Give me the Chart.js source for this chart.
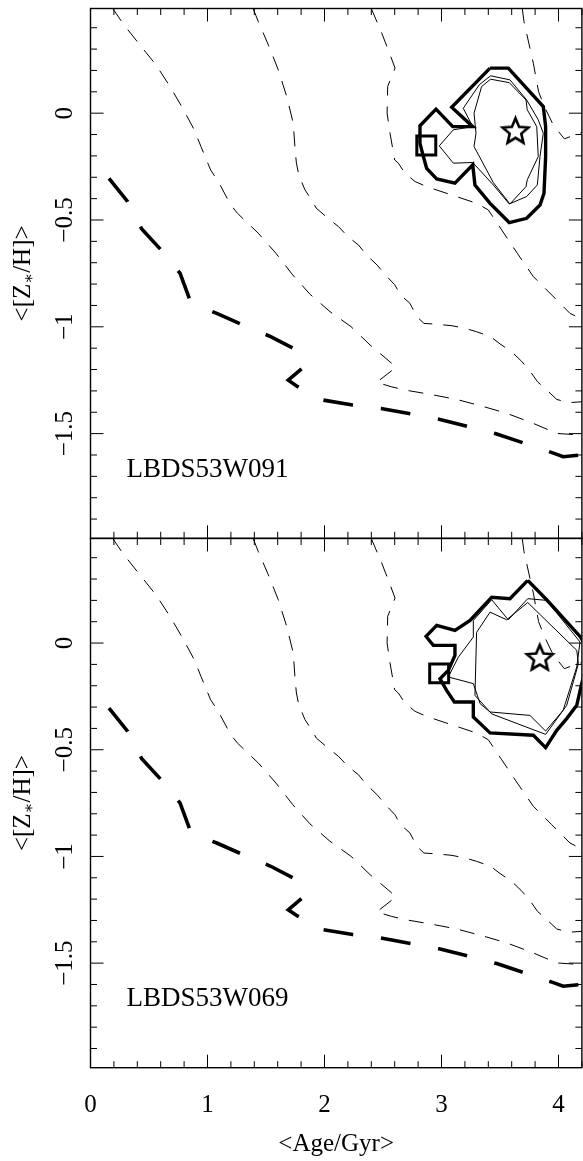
<!DOCTYPE html>
<html>
<head>
<meta charset="utf-8">
<script src="https://cdn.jsdelivr.net/npm/chart.js@4.4.1/dist/chart.umd.min.js"></script>
<style>
  body { margin: 0; background: #fff; width: 583px; height: 1161px; overflow: hidden; position: relative; }
  canvas { position: absolute; left: 0; }
</style>
</head>
<body>
<canvas id="c1" width="583" height="540" style="top:0"></canvas>
<canvas id="c2" width="583" height="631" style="top:530px"></canvas>
<script>
// axis ticks and labels
const ageTicks = [0, 1, 2, 3, 4];
const zTicks = [0, -0.5, -1, -1.5];
const zTickLabels = ['0', '\u22120.5', '\u22121', '\u22121.5'];
const panelNames = ['LBDS53W091', 'LBDS53W069'];

// thick long-dashed track
const trackAge = [0.158, 0.318, 0.438, 0.603, 0.765, 0.86, 1.079, 1.306, 1.54, 1.762, 1.84, 1.69, 1.762, 1.99, 2.24, 2.483, 2.739, 2.979, 3.235, 3.472, 3.714, 3.95, 4.04, 4.2];
const trackZ = [-0.305, -0.414, -0.542, -0.64, -0.749, -0.89, -0.937, -0.992, -1.046, -1.109, -1.18, -1.25, -1.277, -1.343, -1.366, -1.382, -1.408, -1.433, -1.468, -1.502, -1.546, -1.59, -1.608, -1.6];

// thin dashed lines
const lineAAge = [0.19, 0.28, 0.417, 0.56, 0.679, 0.788, 0.887, 0.944, 0.985, 1.027, 1.092, 1.198, 1.255, 1.434, 1.585, 1.728, 1.875, 2.047, 2.226, 2.389, 2.568, 2.61, 2.446, 2.574, 2.688, 2.902, 3.13, 3.344, 3.557, 3.771, 3.985, 4.2];
const lineAZ = [0.49, 0.418, 0.323, 0.226, 0.125, 0.023, -0.078, -0.156, -0.211, -0.266, -0.32, -0.429, -0.468, -0.562, -0.656, -0.757, -0.847, -0.929, -0.999, -1.085, -1.168, -1.19, -1.26, -1.281, -1.296, -1.316, -1.34, -1.371, -1.405, -1.449, -1.499, -1.507];

const lineBAge = [1.39, 1.434, 1.52, 1.605, 1.677, 1.733, 1.75, 1.76, 1.78, 1.833, 1.89, 1.93, 2.03, 2.12, 2.2, 2.29, 2.36, 2.45, 2.52, 2.6, 2.65, 2.73, 2.79, 2.85, 2.96, 3.09, 3.2, 3.3, 3.42, 3.5, 3.6, 3.68, 3.75, 3.82, 3.9, 3.985, 4.09, 4.2];
const lineBZ = [0.49, 0.429, 0.32, 0.203, 0.078, -0.047, -0.18, -0.234, -0.289, -0.359, -0.406, -0.445, -0.492, -0.531, -0.578, -0.617, -0.664, -0.711, -0.757, -0.803, -0.851, -0.89, -0.953, -0.984, -0.988, -0.995, -1.007, -1.023, -1.046, -1.08, -1.117, -1.159, -1.202, -1.257, -1.296, -1.34, -1.355, -1.351];

const lineCAge = [2.4, 2.489, 2.545, 2.603, 2.54, 2.535, 2.56, 2.6, 2.631, 2.688, 2.774, 2.874, 3.087, 3.301, 3.4, 3.515, 3.648, 3.785, 3.942, 4.098, 4.2];
const lineCZ = [0.49, 0.375, 0.296, 0.211, 0.125, 0.0, -0.094, -0.219, -0.234, -0.281, -0.32, -0.344, -0.383, -0.422, -0.453, -0.547, -0.656, -0.765, -0.851, -0.937, -0.965];

const lineDAge = [3.69, 3.705, 3.756, 3.785, 3.808, 3.83, 3.88, 3.955, 4.05, 4.2];
const lineDZ = [0.49, 0.429, 0.304, 0.234, 0.164, 0.1, 0.03, -0.055, -0.12, -0.09];

// LBDS53W091 contours and markers
const w091OuterAge = [3.415, 3.571, 3.87, 3.89, 3.89, 3.876, 3.842, 3.728, 3.579, 3.415, 3.286, 3.267, 3.115, 2.959, 2.873, 2.845, 2.816, 2.816, 2.953, 3.096, 3.267, 3.087, 3.415];
const w091OuterZ = [0.211, 0.211, 0.031, -0.063, -0.203, -0.375, -0.43, -0.492, -0.512, -0.422, -0.336, -0.242, -0.328, -0.308, -0.258, -0.203, -0.141, -0.059, 0.019, -0.063, -0.063, 0.028, 0.211];
const w091MidAge = [3.267, 3.101, 2.981, 3.101, 3.267, 3.443, 3.579, 3.728, 3.819, 3.842, 3.87, 3.827, 3.728, 3.585, 3.42, 3.323, 3.186, 3.267];
const w091MidZ = [-0.063, -0.078, -0.153, -0.234, -0.231, -0.336, -0.425, -0.39, -0.336, -0.203, -0.094, -0.031, 0.062, 0.156, 0.175, 0.133, 0.023, -0.063];
const w091InnerAge = [3.343, 3.42, 3.579, 3.722, 3.733, 3.814, 3.827, 3.733, 3.722, 3.585, 3.443, 3.278, 3.295, 3.278, 3.343];
const w091InnerZ = [0.125, 0.159, 0.143, 0.062, 0.016, -0.063, -0.203, -0.312, -0.344, -0.425, -0.325, -0.156, -0.094, 0.0, 0.125];
const w091Square = [2.87, -0.151];
const w091Star = [3.632, -0.087];

// LBDS53W069 contours and markers
const w069OuterAge = [3.737, 3.899, 4.184, 4.22, 4.22, 4.198, 4.156, 4.07, 3.985, 3.89, 3.785, 3.415, 3.272, 3.272, 3.11, 3.044, 2.987, 3.058, 3.115, 3.115, 2.93, 2.868, 2.959, 3.115, 3.244, 3.429, 3.585, 3.737];
const w069OuterZ = [0.294, 0.203, 0.031, 0.0, -0.15, -0.19, -0.292, -0.354, -0.409, -0.49, -0.432, -0.421, -0.347, -0.276, -0.276, -0.222, -0.167, -0.128, -0.058, -0.011, -0.011, 0.031, 0.083, 0.059, 0.106, 0.215, 0.208, 0.294];
const w069MidAge = [3.272, 3.429, 3.571, 3.737, 3.899, 4.184, 4.156, 4.04, 3.89, 3.756, 3.415, 3.33, 3.272, 3.058, 3.144, 3.272, 3.272];
const w069MidZ = [0.106, 0.203, 0.109, 0.208, 0.2, 0.005, -0.112, -0.315, -0.412, -0.339, -0.323, -0.284, -0.19, -0.159, -0.066, 0.028, 0.106];
const w069InnerAge = [3.3, 3.415, 3.557, 3.737, 4.156, 4.17, 4.07, 3.89, 3.429, 3.286, 3.3];
const w069InnerZ = [0.05, 0.145, 0.109, 0.19, -0.034, -0.097, -0.292, -0.428, -0.332, -0.245, 0.05];
const w069Square = [2.98, -0.142];
const w069Star = [3.84, -0.072];

const pts = (xs, ys) => xs.map((x, i) => ({ x, y: ys[i] }));

function starImage(r) {
  const s = Math.ceil(2 * r + 6);
  const c = document.createElement('canvas');
  c.width = s; c.height = s;
  const g = c.getContext('2d');
  g.translate(s / 2, s / 2);
  g.beginPath();
  for (let i = 0; i < 10; i++) {
    const rr = i % 2 ? r * 0.45 : r;
    const a = -Math.PI / 2 + i * Math.PI / 5;
    g.lineTo(rr * Math.cos(a), rr * Math.sin(a));
  }
  g.closePath();
  g.fillStyle = '#fff';
  g.fill();
  g.lineWidth = 2.6;
  g.strokeStyle = '#000';
  g.stroke();
  return c;
}
const star = starImage(13.5);

const SERIF = '"Liberation Serif", "DejaVu Serif", serif';

// frame with inward ticks on all four sides, plus labels
const frame = {
  id: 'frame',
  afterDraw(chart, args, o) {
    const { ctx, chartArea: a, scales: { x, y } } = chart;
    ctx.save();
    ctx.strokeStyle = '#000';
    ctx.lineWidth = 1;
    ctx.beginPath();
    for (let i = 0; i <= 21; i++) {
      const px = x.getPixelForValue(i * 0.2);
      const len = i % 5 === 0 ? 13 : 6.5;
      ctx.moveTo(px, a.top); ctx.lineTo(px, a.top + len);
      ctx.moveTo(px, a.bottom); ctx.lineTo(px, a.bottom - len);
    }
    for (let i = -19; i <= 4; i++) {
      const py = y.getPixelForValue(i / 10);
      const len = i % 5 === 0 ? 13 : 6.5;
      ctx.moveTo(a.left, py); ctx.lineTo(a.left + len, py);
      ctx.moveTo(a.right, py); ctx.lineTo(a.right - len, py);
    }
    ctx.stroke();
    ctx.lineWidth = 1.4;
    ctx.strokeRect(a.left, a.top, a.right - a.left, a.bottom - a.top);

    ctx.fillStyle = '#000';
    ctx.font = '25px ' + SERIF;
    // rotated y tick labels
    zTicks.forEach((v, i) => {
      ctx.save();
      ctx.translate(72, y.getPixelForValue(v));
      ctx.rotate(-Math.PI / 2);
      ctx.textAlign = 'center';
      ctx.textBaseline = 'alphabetic';
      ctx.fillText(zTickLabels[i], 0, 0);
      ctx.restore();
    });

    // y title <[Z*/H]>
    ctx.save();
    ctx.translate(30, (a.top + a.bottom) / 2);
    ctx.rotate(-Math.PI / 2);
    const p1 = '<[Z', p3 = '/H]>';
    ctx.font = '25px ' + SERIF;
    const w1 = ctx.measureText(p1).width, w3 = ctx.measureText(p3).width;
    ctx.font = '16px ' + SERIF;
    const w2 = ctx.measureText('\u2217').width;
    let sx = -(w1 + w2 + w3) / 2;
    ctx.font = '25px ' + SERIF;
    ctx.fillText(p1, sx, 0); sx += w1;
    ctx.font = '16px ' + SERIF;
    ctx.fillText('\u2217', sx, 4); sx += w2;
    ctx.font = '25px ' + SERIF;
    ctx.fillText(p3, sx, 0);
    ctx.restore();

    // object name
    ctx.font = '27px ' + SERIF;
    ctx.textAlign = 'left';
    ctx.fillText(o.name, 126.5, o.nameY);

    if (o.showX) {
      ctx.font = '25px ' + SERIF;
      ctx.textAlign = 'center';
      ageTicks.forEach(v => ctx.fillText(String(v), x.getPixelForValue(v), a.bottom + 44));
      ctx.fillText('<Age/Gyr>', (a.left + a.right) / 2, a.bottom + 83);
    }
    ctx.restore();
  }
};

function datasets(outerA, outerZ, midA, midZ, innA, innZ, sq, st) {
  const thinDash = { showLine: true, borderColor: '#000', borderWidth: 1, borderDash: [15, 11], pointRadius: 0, fill: false };
  return [
    { ...thinDash, data: pts(lineAAge, lineAZ) },
    { ...thinDash, data: pts(lineBAge, lineBZ) },
    { ...thinDash, data: pts(lineCAge, lineCZ) },
    { ...thinDash, data: pts(lineDAge, lineDZ) },
    { showLine: true, borderColor: '#000', borderWidth: 3.6, borderDash: [30, 28], pointRadius: 0, data: pts(trackAge, trackZ) },
    { showLine: true, borderColor: '#000', borderWidth: 1, pointRadius: 0, data: pts(innA, innZ) },
    { showLine: true, borderColor: '#000', borderWidth: 1, pointRadius: 0, data: pts(midA, midZ) },
    { showLine: true, borderColor: '#000', borderWidth: 3.4, pointRadius: 0, data: pts(outerA, outerZ) },
    { data: [{ x: sq[0], y: sq[1] }], pointStyle: 'rect', pointRadius: 13.4, borderWidth: 3, borderColor: '#000', backgroundColor: 'rgba(0,0,0,0)' },
    { data: [{ x: st[0], y: st[1] }], pointStyle: star, pointRadius: 14 }
  ];
}

function makeChart(id, padBottom, ds, opts) {
  return new Chart(document.getElementById(id), {
    type: 'scatter',
    data: { datasets: ds },
    options: {
      responsive: false,
      animation: false,
      devicePixelRatio: 1,
      layout: { autoPadding: false, padding: { left: 90.5, right: 1.1, top: 8.5, bottom: padBottom } },
      elements: { line: { tension: 0, borderJoinStyle: 'miter' } },
      scales: {
        x: { type: 'linear', min: 0, max: 4.2, display: false },
        y: { type: 'linear', min: -1.99, max: 0.49, display: false }
      },
      plugins: { legend: { display: false }, tooltip: { enabled: false }, frame: opts }
    },
    plugins: [frame]
  });
}

makeChart('c1', 1.7, datasets(w091OuterAge, w091OuterZ, w091MidAge, w091MidZ, w091InnerAge, w091InnerZ, w091Square, w091Star),
  { name: panelNames[0], nameY: 476.5, showX: false });
makeChart('c2', 93.3, datasets(w069OuterAge, w069OuterZ, w069MidAge, w069MidZ, w069InnerAge, w069InnerZ, w069Square, w069Star),
  { name: panelNames[1], nameY: 476, showX: true });
</script>
</body>
</html>
